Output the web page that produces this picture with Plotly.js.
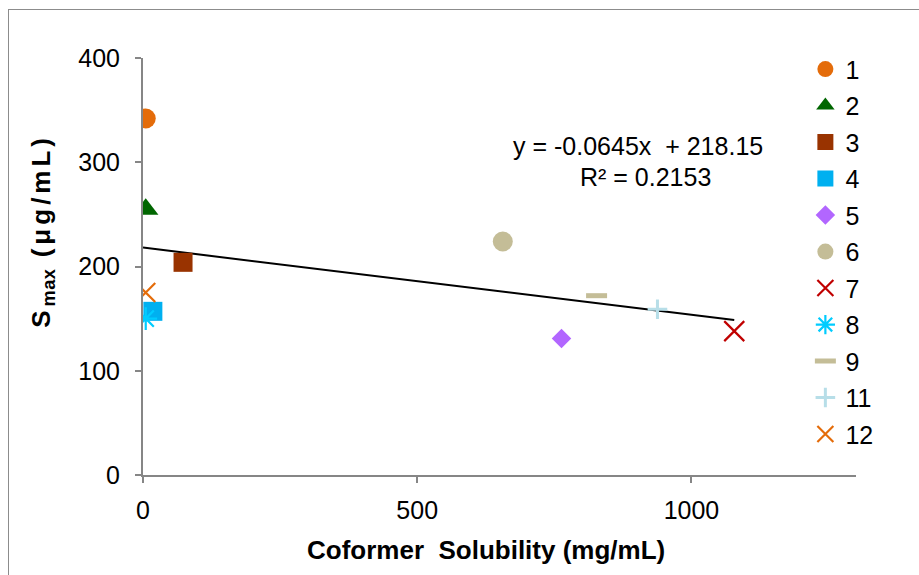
<!DOCTYPE html>
<html><head><meta charset="utf-8">
<script src="https://cdn.plot.ly/plotly-3.0.1.min.js"></script>
<style>
html,body{margin:0;padding:0;background:#fff;}
#frame{position:absolute;left:8px;top:9px;width:920px;height:580px;border:1px solid #8c8c8c;box-sizing:border-box;}
#chart{position:absolute;left:0;top:0;width:919px;height:575px;}
</style></head>
<body>
<div id="frame"></div>
<div id="chart"></div>
<script>
const names = ["1","2","3","4","5","6","7","8","9","11","12"];
const xVals = [5, 5, 73, 18, 763, 656, 1078, 5, 827, 938, 5];
const yVals = [342, 255, 204, 157, 131, 224, 138, 150, 172, 159, 175];
const symbols = ["circle","triangle-up","square","square","diamond","circle","x-thin-open","asterisk-open","line-ew-open","cross-thin-open","x-thin-open"];
const colors = ["#E46C0A","#006600","#993300","#00B0F0","#B266FF","#C4BD97","#C00000","#00CCFF","#C4BD97","#B7DEE8","#E46C0A"];
const sizes = [20,22,19,19,15,20,20,19,15,14,19];
const slope = -0.0645, intercept = 218.15, r2 = 0.2153;
const xTitle = "Coformer  Solubility (mg/mL)";
const yTitle = "S<sub>max</sub> (μg/mL)";

function lineW(s){ return s==="line-ew-open" ? 5 : (s==="cross-thin-open" ? 3 : 2.2); }
const traces = names.map((n,i)=>({
  type:"scatter", mode:"markers", name:n, legendgroup:"g"+i,
  x:[xVals[i]], y:[yVals[i]],
  marker:{symbol:symbols[i], color:colors[i], size:sizes[i],
    line:{color:colors[i], width: symbols[i].includes("open") ? lineW(symbols[i]) : 0}}
}));
const xmax = Math.max(...xVals);
traces.unshift({type:"scatter", mode:"lines", x:[0,xmax], y:[intercept, intercept+slope*xmax],
  line:{color:"#000", width:2}, showlegend:false, hoverinfo:"skip"});

const layout = {
  width:919, height:575,
  margin:{l:143, r:63, t:58, b:100},
  paper_bgcolor:"rgba(0,0,0,0)", plot_bgcolor:"rgba(0,0,0,0)",
  font:{family:"Liberation Sans, Arial, sans-serif", size:25, color:"#000"},
  showlegend:true,
  legend:{x:0.929, xanchor:"left", y:1.028, yanchor:"top", tracegroupgap:1,
    bgcolor:"rgba(0,0,0,0)", font:{size:25}, itemwidth:30, maxheight:560},
  xaxis:{range:[0,1300], tickvals:[0,500,1000], showgrid:false, zeroline:false,
    showline:true, linecolor:"#868686", linewidth:2, ticks:"outside", ticklen:6, tickcolor:"#868686", tickwidth:2,
    ticklabelstandoff:6},
  yaxis:{range:[0,400], tickvals:[0,100,200,300,400], showgrid:false, zeroline:false,
    showline:true, linecolor:"#868686", linewidth:2, ticks:"outside", ticklen:6, tickcolor:"#868686", tickwidth:2,
    ticklabelstandoff:10},
  annotations:[
    {xref:"x", yref:"y", x:902, y:316, text:"y = " + slope + "x  + " + intercept, showarrow:false, xanchor:"center", font:{size:25}},
    {xref:"x", yref:"y", x:917, y:286, text:"R² = " + r2, showarrow:false, xanchor:"center", font:{size:25}},
    {xref:"paper", yref:"paper", x:0.481, y:-0.18, text:"<b>"+xTitle+"</b>", showarrow:false, xanchor:"center", yanchor:"middle", font:{size:26}},
    {xref:"paper", yref:"paper", x:-0.1417, y:0.585, text:"<b>"+yTitle+"</b>", textangle:-90, showarrow:false, xanchor:"center", yanchor:"middle", font:{size:26}}
  ]
};
Plotly.newPlot("chart", traces, layout, {displayModeBar:false, staticPlot:true}).then(()=>{
  const anns = document.querySelectorAll("#chart .annotation-text");
  if (anns.length >= 4) {
    anns[3].style.letterSpacing = "4px";
    anns[3].querySelectorAll("tspan").forEach(t=>{
      if (t.textContent === "max") t.style.letterSpacing = "0.5px";
    });
  }
});
</script>
</body></html>
